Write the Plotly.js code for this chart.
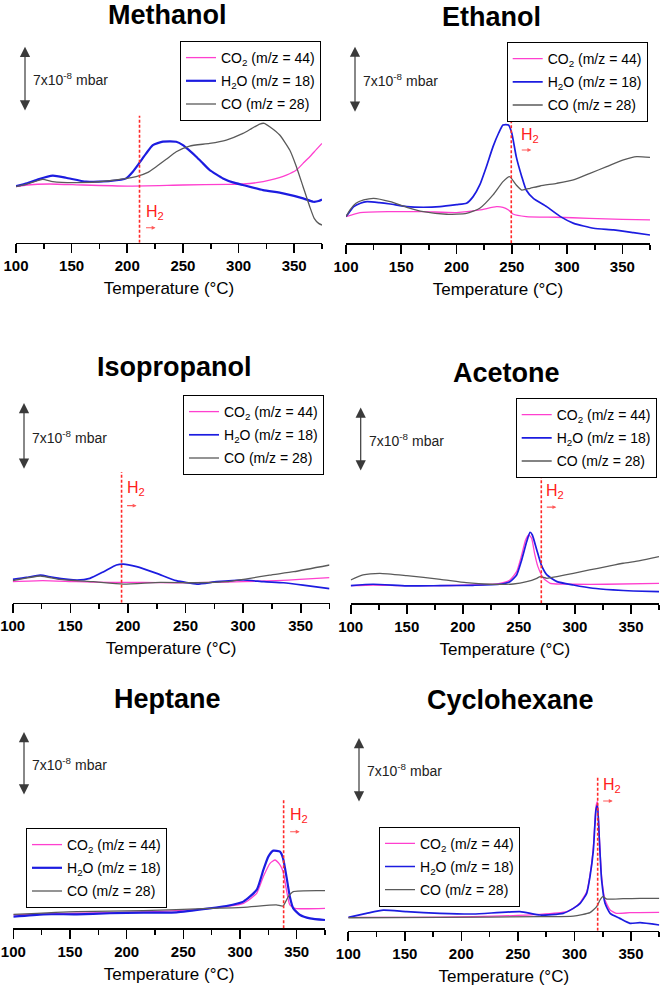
<!DOCTYPE html>
<html><head><meta charset="utf-8">
<script src="https://cdn.plot.ly/plotly-3.0.1.min.js"></script>
<style>html,body{margin:0;padding:0;background:#fff}#chart{width:661px;height:987px}</style>
</head><body><div id="chart"></div>
<script>
// ---------- DATA (temperature in °C; signal in units of 1e-8 mbar, arbitrary offset) ----------
const panel_titles = ['Methanol','Ethanol','Isopropanol','Acetone','Heptane','Cyclohexane'];
const series_labels = ['CO<sub>2</sub> (m/z = 44)','H<sub>2</sub>O (m/z = 18)','CO (m/z = 28)'];
const x_tick_values = [100,150,200,250,300,350];
const h2_switch_T = [211,249.5,194.5,270,338.5,320.5];

const meoh_t_co2 = [100,110,130,160,200,250,290,304,316,328,343,352,358,364,370,375];
const meoh_co2   = [6.0,6.18,6.29,6.18,6.07,6.18,6.25,6.29,6.43,6.71,7.25,7.79,8.5,9.21,10.0,10.64];
const meoh_t_h2o = [100,110,120,133,145,163,185,199,205,211,217,223,232,244,250,256,262,268,274,280,286,295,304,322,340,358,367,372,375];
const meoh_h2o   = [6.07,6.36,6.79,7.18,6.96,6.54,6.61,6.89,7.61,8.57,9.57,10.46,10.82,10.82,10.46,9.86,9.21,8.5,7.79,7.32,6.89,6.46,6.18,5.64,5.29,4.75,4.39,4.46,4.64];
const meoh_t_co  = [100,112,124,133,154,184,208,218,226,235,244,256,274,289,304,312,319,323,328,337,346,352,358,364,368,372,375];
const meoh_co    = [6.0,6.36,6.79,6.54,6.43,6.64,7.07,7.5,8.14,8.93,9.75,10.36,10.64,11.0,11.71,12.25,12.71,12.79,12.43,11.54,9.93,8.14,6.0,3.86,2.61,2.07,1.89];

const etoh_t_co2 = [100,112.7,140,170,200,221,236,242,247,251,263,290,320,350,375];
const etoh_co2   = [2.86,3.29,3.39,3.39,3.29,3.57,3.93,3.86,3.57,3.14,2.86,2.79,2.68,2.57,2.5];
const etoh_t_h2o = [100,104,107,113,119,130,140,155,170,185,200,209,215,221,227,233,238,242,247,250,254,259,263,269.5,281.5,294,306,324,342,360,375];
const etoh_h2o   = [2.86,3.5,3.93,4.29,4.46,4.36,4.21,3.93,3.86,3.93,4.14,4.29,5.0,6.25,8.21,10.36,11.79,12.68,12.68,11.79,9.29,7.14,5.71,4.82,3.93,2.86,2.14,1.61,1.43,1.14,0.89];
const etoh_t_co  = [100,104,109,116,125,140,155,170,191,209,221,233,242,248,254,259,266.5,275.5,290.6,305.7,320.7,335.8,351,363,375];
const etoh_co    = [2.86,3.64,4.29,4.64,4.82,4.46,3.86,3.39,3.11,3.21,3.75,5.18,6.61,7.14,6.25,5.71,5.89,6.14,6.43,6.79,7.5,8.21,8.93,9.29,9.21];

const ipa_t_co2 = [100,126,155,184.5,213,242,271,300,329,349,375];
const ipa_co2   = [2.25,2.36,2.25,2.18,2.18,2.14,2.18,2.25,2.36,2.5,2.68];
const ipa_t_h2o = [100,112,124,135,156,167,179,190,196,207.6,225,242,260,277,300,318,335,352,375];
const ipa_h2o   = [2.5,2.71,2.96,2.71,2.43,2.61,3.32,4.04,4.14,3.86,3.14,2.36,2.0,2.25,2.43,2.25,2.14,1.89,1.5];
const ipa_t_co  = [100,124,141,170,196,228,260,286,306,323,344,375];
const ipa_co    = [2.36,2.86,2.5,2.25,2.0,2.18,2.14,2.25,2.61,2.96,3.32,4.04];

const ace_t_co2 = [100,120,150,209,233,242,248,252.5,256,259,261.4,264,267,272,278,298.6,328,375];
const ace_co2   = [1.89,1.96,1.89,1.96,2.14,2.5,3.39,5.18,6.79,7.32,6.96,5.36,3.93,2.68,2.14,2.04,2.04,2.14];
const ace_t_h2o = [100,120,150,180,209,233,242,248,252.5,257,260,262,266,270,275,284,298.6,316,334,352,375];
const ace_h2o   = [1.89,2.04,1.86,1.89,1.93,2.04,2.32,3.04,4.64,6.61,7.61,7.32,5.71,4.11,3.04,2.32,1.96,1.61,1.43,1.32,1.25];
const ace_t_co  = [100,111,126,150,180,203,224,245,257,266,269,275,284,298.6,313,328,343,358,375];
const ace_co    = [2.5,3.04,3.21,2.96,2.57,2.21,2.04,2.07,2.32,2.68,2.86,2.68,2.86,3.21,3.57,3.93,4.29,4.57,5.0];

const hep_t_co2 = [100,156,214.7,273.5,303,314.7,320.6,326.5,331,335.3,338,341,344,348.5,375];
const hep_co2   = [1.43,1.61,1.75,2.14,2.68,3.75,5.54,6.96,7.32,6.79,6.07,4.11,2.5,2.14,2.14];
const hep_t_h2o = [100,126.5,156,185,214.7,244,273.5,288,303,314.7,320.6,325,329.4,335.3,338,341,344,347,353,361.8,375];
const hep_h2o   = [1.25,1.5,1.5,1.61,1.68,1.71,2.14,2.39,2.86,4.11,6.25,7.68,8.32,8.21,7.5,5.54,3.39,2.14,1.43,1.07,0.89];
const hep_t_co  = [100,156,214.7,273.5,303,332,338,342.6,347,375];
const hep_co    = [1.5,1.79,1.89,2.14,2.25,2.5,2.39,3.39,3.93,4.04];

const chx_t_co2 = [100,151.6,210.6,269.5,293,299,305,310.8,313.7,316.7,319,320.3,322,324,327,331.5,337,349,375];
const chx_co2   = [1.43,1.43,1.5,1.75,2.04,2.39,3.0,4.18,5.96,9.0,13.29,13.82,10.07,5.79,3.29,2.21,1.86,1.93,1.96];
const chx_t_h2o = [100,116,131,151.6,181,210.6,251.8,269.5,290,299,305,310.8,313.7,316.7,319,320.3,322,324,327,331.5,340,349,358,375];
const chx_h2o   = [1.43,1.86,2.21,2.04,1.86,1.79,2.04,1.68,1.86,2.39,2.93,4.0,5.79,8.64,12.93,13.46,9.71,5.43,2.93,1.86,1.32,0.79,0.86,0.61];
const chx_t_co  = [100,181,269.5,299,313.7,319.6,322.6,325,328.5,343,358,375];
const chx_co    = [1.39,1.43,1.5,1.57,1.93,2.57,3.29,3.64,3.39,3.43,3.46,3.46];

// ---------- LAYOUT CONFIG (pixel geometry only) ----------
const W = 661, H = 987, PX_PER_UNIT = 28/3, Y_MAX = 22.5;
const FONT = 'Liberation Sans, Arial, Helvetica, sans-serif';
const COLORS = {co2:'#ff3fcf', h2o:'#1c1ce0', co:'#5a5a5a'};

const panelData = [
  {co2:[meoh_t_co2,meoh_co2], h2o:[meoh_t_h2o,meoh_h2o], co:[meoh_t_co,meoh_co]},
  {co2:[etoh_t_co2,etoh_co2], h2o:[etoh_t_h2o,etoh_h2o], co:[etoh_t_co,etoh_co]},
  {co2:[ipa_t_co2,ipa_co2],   h2o:[ipa_t_h2o,ipa_h2o],   co:[ipa_t_co,ipa_co]},
  {co2:[ace_t_co2,ace_co2],   h2o:[ace_t_h2o,ace_h2o],   co:[ace_t_co,ace_co]},
  {co2:[hep_t_co2,hep_co2],   h2o:[hep_t_h2o,hep_h2o],   co:[hep_t_co,hep_co]},
  {co2:[chx_t_co2,chx_co2],   h2o:[chx_t_h2o,chx_h2o],   co:[chx_t_co,chx_co]}
];
const geo = [
  {x0:16,   x1:322,   axisY:242.7, tx:167,   ty:14.8,  lx:180,   ly:41,    ax:25,    ar:[14,21],      h2top:13.6,  h2txt:3.2,   h2arr:1.6,   h2shift:5, bw:2.2},
  {x0:346,  x1:650,   axisY:243.3, tx:491.5, ty:16.5,  lx:506.7, ly:42,    ax:355,   ar:[13.93,21.07],h2top:13.4,  h2txt:11.6,  h2arr:10.0,  h2shift:9, bw:1.7},
  {x0:12.7, x1:329.5, axisY:602.7, tx:175,   ty:366.7, lx:183,   ly:395,   ax:24,    ar:[14.2,21.4],  h2top:14.0,  h2txt:12.2,  h2arr:10.4,  h2shift:4, bw:1.7},
  {x0:350.7,x1:659,   axisY:603.3, tx:506.3, ty:372.5, lx:515.7, ly:398,   ax:360.7, ar:[14.07,20.97],h2top:13.75, h2txt:11.96, h2arr:10.3,  h2shift:4, bw:1.7},
  {x0:13.3, x1:325,   axisY:928.3, tx:167.5, ty:699,   lx:26,    ly:828,   ax:24,    ar:[14.18,21.04],h2top:13.75, h2txt:12.1,  h2arr:10.35, h2shift:5, bw:2.2},
  {x0:348.3,x1:659.3, axisY:930.7, tx:510,   ty:699.5, lx:379,   ly:826.7, ax:359,   ar:[13.68,20.65],h2top:16.5,  h2txt:15.6,  h2arr:13.9,  h2shift:4, bw:1.7}
];

const traces = [], annotations = [], shapes = [];
const layout = {
  width: W, height: H, margin:{l:0,r:0,t:0,b:0},
  paper_bgcolor:'#fff', plot_bgcolor:'rgba(0,0,0,0)', showlegend:true,
  font:{family:FONT, color:'#000'}
};

geo.forEach((g, i) => {
  const n = i + 1, sfx = n === 1 ? '' : String(n);
  const xa = 'x' + sfx, ya = 'y' + sfx, lg = 'legend' + sfx;
  const yBot = 1 - g.axisY / H, yTop = yBot + Y_MAX * PX_PER_UNIT / H;
  layout['xaxis' + sfx] = {
    domain:[g.x0 / W, g.x1 / W], range:[100, 375], anchor: ya,
    showline:true, linecolor:'#000', linewidth:1.6, showgrid:false, zeroline:false,
    ticks:'outside', tickvals:x_tick_values, ticklen:9, tickwidth:1.6, tickcolor:'#000',
    tickfont:{family:FONT, size:15, color:'#000', weight:'bold'},
    minor:{tickvals:[125,175,225,275,325,375], ticks:'outside', ticklen:5, tickwidth:1.6, tickcolor:'#000'},
    title:{text:'Temperature (°C)', font:{family:FONT, size:17, color:'#000'}, standoff:9}
  };
  layout['yaxis' + sfx] = {domain:[yBot, yTop], range:[0, Y_MAX], anchor: xa, visible:false, fixedrange:true};
  layout[lg] = {
    x: g.lx / W, y: 1 - g.ly / H, xanchor:'left', yanchor:'top',
    bgcolor:'#fff', bordercolor:'#000', borderwidth:1,
    font:{family:FONT, size:14, color:'#000'}, tracegroupgap:2
  };
  const d = panelData[i];
  [['co2', 1.3], ['h2o', g.bw], ['co', 1.3]].forEach(([k, w], j) => {
    traces.push({
      type:'scatter', mode:'lines', x:d[k][0], y:d[k][1], xaxis:xa, yaxis:ya,
      name:series_labels[j], legend:lg, legendgroup:'g' + n + k,
      line:{color:COLORS[k], width:w, shape:'spline', smoothing:0.5},
      hoverinfo:'skip'
    });
  });
  // panel title
  annotations.push({xref:'paper', yref:'paper', x:g.tx / W, y:1 - g.ty / H, xanchor:'center', yanchor:'middle',
    text:'<b>' + panel_titles[i] + '</b>', showarrow:false, font:{family:FONT, size:27, color:'#000'}});
  // scale arrow
  annotations.push({xref:xa + ' domain', yref:ya, x:(g.ax - g.x0) / (g.x1 - g.x0), y:g.ar[1],
    axref:xa + ' domain', ayref:ya, ax:(g.ax - g.x0) / (g.x1 - g.x0), ay:g.ar[0],
    text:'', showarrow:true, arrowside:'end+start', arrowhead:2, arrowsize:1.7, arrowwidth:1.2, arrowcolor:'#3a3a3a'});
  annotations.push({xref:xa + ' domain', yref:ya, x:(g.ax - g.x0 + 6) / (g.x1 - g.x0), y:(g.ar[0] + g.ar[1]) / 2,
    xanchor:'left', yanchor:'middle', showarrow:false,
    text:'7x10<sup>-8</sup> mbar', font:{family:FONT, size:14, color:'#222'}});
  // H2 switch marker
  const T = h2_switch_T[i];
  shapes.push({type:'line', xref:xa, yref:ya, x0:T, x1:T, y0:0, y1:g.h2top,
    line:{color:'#ff2a2a', width:1.6, dash:'3px,2px'}});
  annotations.push({xref:xa, yref:ya, x:T, y:g.h2txt, xanchor:'left', yanchor:'middle', xshift:g.h2shift - 1,
    showarrow:false, text:'H<sub>2</sub>', font:{family:FONT, size:16, color:'#ff2020'}});
  annotations.push({xref:xa, yref:ya, x:T, y:g.h2arr, xshift:g.h2shift + 11,
    axref:'pixel', ayref:'pixel', ax:-11, ay:0, text:'', showarrow:true,
    arrowhead:2, arrowsize:0.7, arrowwidth:1.1, arrowcolor:'#ff5a5a'});
});
layout.annotations = annotations;
layout.shapes = shapes;

Plotly.newPlot('chart', traces, layout, {staticPlot:true, displayModeBar:false});
</script></body></html>
